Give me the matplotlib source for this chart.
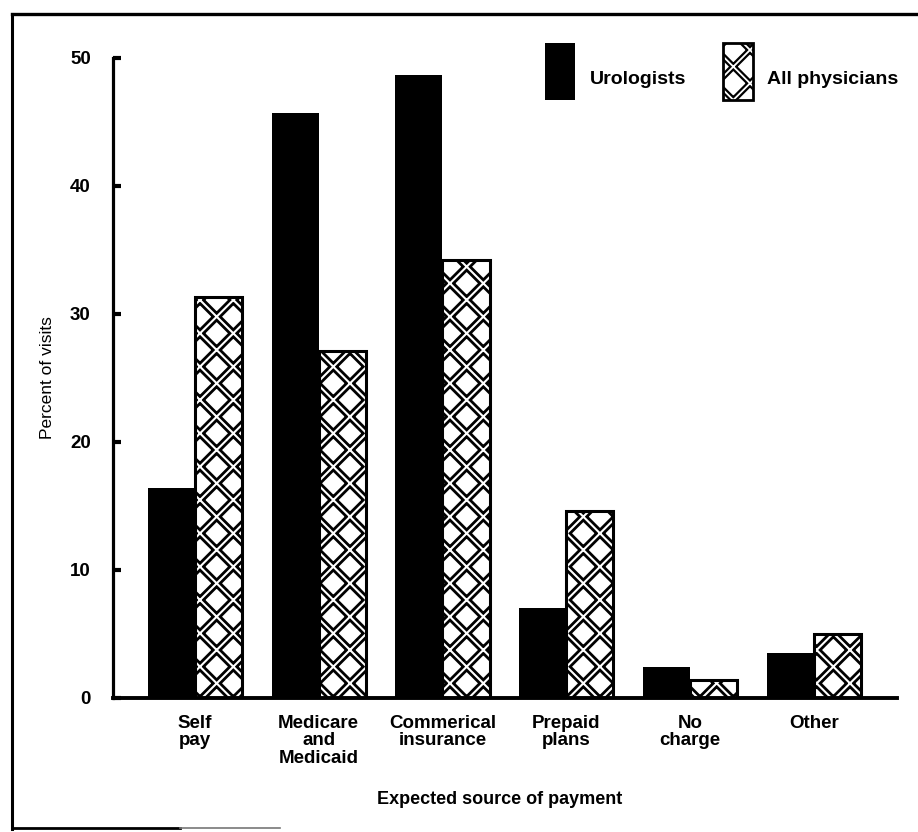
import matplotlib
matplotlib.use('Agg')
import matplotlib as mpl
import matplotlib.pyplot as plt
import numpy as np
from matplotlib.patches import Rectangle
from matplotlib.lines import Line2D

categories = ['Self\npay', 'Medicare\nand\nMedicaid', 'Commerical\ninsurance',
              'Prepaid\nplans', 'No\ncharge', 'Other']
urologists = [16.4, 45.7, 48.7, 7.0, 2.4, 3.5]
all_physicians = [31.3, 27.1, 34.2, 14.6, 1.4, 5.0]
yticks = [0, 10, 20, 30, 40, 50]
series_names = ['Urologists', 'All physicians']

plt.rcParams['font.family'] = ['Liberation Sans', 'DejaVu Sans']

W, H = 918, 832
fig = plt.figure(figsize=(W / 100, H / 100), dpi=100)
fig.patch.set_facecolor('white')


def fx(px):
    return px / W


def fy(py):
    return 1 - py / H


def set_hatch_lw(patch, lw):
    """Give one patch its own hatch line width (works for draw-time rc lookups too)."""
    if hasattr(patch, 'set_hatch_linewidth'):
        patch.set_hatch_linewidth(lw)
    orig = patch.draw

    def draw(renderer, _orig=orig, _lw=lw):
        with mpl.rc_context({'hatch.linewidth': _lw}):
            if hasattr(patch, 'set_hatch_linewidth'):
                patch.set_hatch_linewidth(_lw)
            _orig(renderer)
    patch.draw = draw


ax = fig.add_axes([fx(113), fy(698), fx(897) - fx(113), fy(58) - fy(698)])

BLACK_HATCH_LW = 5.5
WHITE_HATCH_LW = 1.5


def hatched_bars(axis, xs, hs, width):
    b1 = axis.bar(xs, hs, width, facecolor='white', edgecolor='black',
                  hatch='x', linewidth=0)
    b2 = axis.bar(xs, hs, width, facecolor='none', edgecolor='white',
                  hatch='x', linewidth=0)
    for p in b1:
        set_hatch_lw(p, BLACK_HATCH_LW)
    for p in b2:
        set_hatch_lw(p, WHITE_HATCH_LW)
    axis.bar(xs, hs, width, fill=False, edgecolor='black', linewidth=2.2)


x = np.arange(len(categories))
w = 0.38
ax.bar(x - w / 2, urologists, w, color='black', linewidth=0)
hatched_bars(ax, x + w / 2, all_physicians, w)

ax.set_ylim(0, 50)
ax.set_xlim(-0.66, 5.67)
for s in ['top', 'right']:
    ax.spines[s].set_visible(False)
ax.spines['left'].set_linewidth(2.3)
ax.spines['bottom'].set_linewidth(2.8)

ax.set_yticks(yticks)
ax.set_yticklabels([str(v) for v in yticks], fontsize=13.5, fontweight='bold')
ax.tick_params(axis='y', direction='in', length=6, width=3, pad=16)
ax.set_xticks(x)
ax.set_xticklabels(categories, fontsize=13.5, fontweight='bold', linespacing=1.05)
ax.tick_params(axis='x', length=0, pad=12)

fig.text(fx(47), fy(378), 'Percent of visits', rotation=90, ha='center',
         va='center', fontsize=12.5)
fig.text(fx(500), fy(800), 'Expected source of payment', ha='center',
         va='center', fontsize=13, fontweight='bold')

# legend
lax = fig.add_axes([0, 0, 1, 1], facecolor='none')
lax.set_xlim(0, W)
lax.set_ylim(H, 0)
lax.axis('off')
lax.add_patch(Rectangle((545, 43), 30, 57, facecolor='black', edgecolor='none'))
lax.text(590, 79, series_names[0], fontsize=14, fontweight='bold', va='center', ha='left')
r1 = Rectangle((723, 43), 30, 57, facecolor='white', edgecolor='black',
               hatch='x', linewidth=0)
r2 = Rectangle((723, 43), 30, 57, facecolor='none', edgecolor='white',
               hatch='x', linewidth=0)
lax.add_patch(r1)
lax.add_patch(r2)
set_hatch_lw(r1, 4.5)
set_hatch_lw(r2, 1.3)
lax.add_patch(Rectangle((723, 43), 30, 57, fill=False, edgecolor='black', linewidth=2))
lax.text(767, 79, series_names[1], fontsize=14, fontweight='bold', va='center', ha='left')

# figure frame (partial, as in the scan)
lax.add_line(Line2D([12, 918], [14, 14], color='black', linewidth=2.4))
lax.add_line(Line2D([12, 12], [14, 829], color='black', linewidth=2.2))
lax.add_line(Line2D([12, 180], [828, 828], color='black', linewidth=2.0))
lax.add_line(Line2D([180, 280], [828, 828], color='#777777', linewidth=1.2))

fig.savefig('out.png', dpi=100, facecolor='white')
